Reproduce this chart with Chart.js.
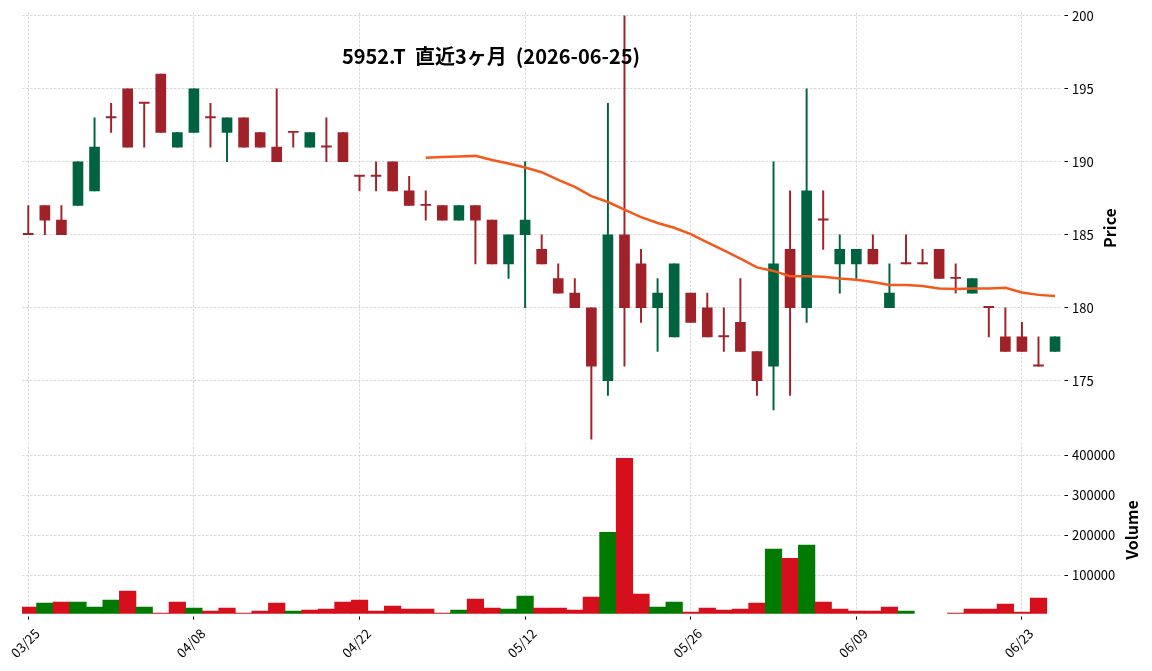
<!DOCTYPE html>
<html lang="ja">
<head>
<meta charset="utf-8">
<title>5952.T 直近3ヶ月</title>
<script src="https://cdn.jsdelivr.net/npm/chart.js@4.4.1/dist/chart.umd.min.js"></script>
<style>
  html, body { margin: 0; padding: 0; background: #fff; }
  #wrap { position: relative; width: 1152px; height: 671px; }
  #priceBox { position: absolute; left: 0; top: 0; width: 1152px; height: 440px; }
  #volBox { position: absolute; left: 0; top: 440px; width: 1152px; height: 231px; }
</style>
</head>
<body>
<div id="wrap">
  <div id="priceBox"><canvas id="priceChart"></canvas></div>
  <div id="volBox"><canvas id="volumeChart"></canvas></div>
</div>
<script>
const dates = [
  "03/25", "03/26", "03/27", "03/30", "03/31", "04/01", "04/02", "04/03", "04/06", "04/07",
  "04/08", "04/09", "04/10", "04/13", "04/14", "04/15", "04/16", "04/17", "04/20", "04/21",
  "04/22", "04/23", "04/24", "04/27", "04/28", "04/30", "05/01", "05/07", "05/08", "05/11",
  "05/12", "05/13", "05/14", "05/15", "05/18", "05/19", "05/20", "05/21", "05/22", "05/25",
  "05/26", "05/27", "05/28", "05/29", "06/01", "06/02", "06/03", "06/04", "06/05", "06/08",
  "06/09", "06/10", "06/11", "06/12", "06/15", "06/16", "06/17", "06/18", "06/19", "06/22",
  "06/23", "06/24", "06/25"
];

const opens = [
  185, 187, 186, 187, 188, 193, 195, 194, 196, 191,
  192, 193, 192, 193, 192, 191, 192, 191, 191, 192,
  189, 189, 190, 188, 187, 187, 186, 187, 186, 183,
  185, 184, 182, 181, 180, 175, 185, 183, 180, 178,
  181, 180, 178, 179, 177, 176, 184, 180, 186, 183,
  183, 184, 180, 183, 183, 184, 182, 181, 180, 178,
  178, 176, 177
];
const highs = [
  187, 187, 187, 190, 193, 194, 195, 194, 196, 192,
  195, 194, 193, 193, 192, 195, 192, 192, 193, 192,
  189, 190, 190, 189, 188, 187, 187, 187, 186, 185,
  190, 185, 183, 182, 180, 194, 200, 184, 182, 183,
  181, 181, 180, 182, 177, 190, 188, 195, 188, 185,
  184, 185, 183, 185, 184, 184, 183, 182, 180, 180,
  179, 178, 178
];
const lows = [
  185, 185, 185, 187, 188, 192, 191, 191, 192, 191,
  192, 191, 190, 191, 191, 190, 191, 191, 190, 190,
  188, 188, 188, 187, 186, 186, 186, 183, 183, 182,
  180, 183, 181, 180, 171, 174, 176, 179, 177, 178,
  179, 178, 177, 177, 174, 173, 174, 179, 184, 181,
  182, 183, 180, 183, 183, 182, 181, 181, 178, 177,
  177, 176, 177
];
const closes = [
  185, 186, 185, 190, 191, 193, 191, 194, 192, 192,
  195, 193, 193, 191, 191, 190, 192, 192, 191, 190,
  189, 189, 188, 187, 187, 186, 187, 186, 183, 185,
  186, 183, 181, 180, 176, 185, 180, 180, 181, 183,
  179, 178, 178, 177, 175, 183, 180, 188, 186, 184,
  184, 183, 181, 183, 183, 182, 182, 182, 180, 177,
  177, 176, 178
];
const volumes = [
  21000, 31000, 33000, 33000, 21000, 38000, 61000, 21000, 6000, 33000,
  18000, 11000, 18000, 6000, 11000, 31000, 11000, 13000, 16000, 33000,
  38000, 11000, 23000, 16000, 16000, 6000, 13000, 41000, 18000, 16000,
  48000, 18000, 18000, 13000, 46000, 208000, 393000, 53000, 21000, 33000,
  8000, 18000, 13000, 16000, 31000, 166000, 143000, 176000, 33000, 16000,
  11000, 11000, 21000, 11000, null, null, 6000, 16000, 16000, 28000,
  8000, 43000, null
];

// 25日移動平均 (index 24 から)
const maStart = 24;
const ma25 = [
  190.28, 190.32, 190.36, 190.40, 190.12, 189.88, 189.60, 189.28, 188.76, 188.28,
  187.64, 187.24, 186.72, 186.20, 185.80, 185.48, 185.04, 184.48, 183.92, 183.36,
  182.76, 182.52, 182.16, 182.16, 182.12, 182.00, 181.92, 181.76, 181.56, 181.56,
  181.48, 181.32, 181.28, 181.32, 181.32, 181.36, 181.04, 180.88, 180.80
];

const dateTicks = [0, 10, 20, 30, 40, 50, 60];
const priceTicks = [175, 180, 185, 190, 195, 200];
const volumeTicks = [100000, 200000, 300000, 400000];

const UP = "#006340", DOWN = "#A02128";
const VOL_UP = "#007a00", VOL_DOWN = "#d5101c";
const GRID = "#cfcfcf";
const FONT = "'Noto Sans CJK JP', 'Noto Sans', sans-serif";

Chart.defaults.font.family = FONT;
Chart.defaults.font.size = 13;
Chart.defaults.color = "#000";
Chart.defaults.animation = false;

const X_MIN = -0.38, X_MAX = 62.42;

const xGrid = { color: GRID, lineWidth: 0.8, offset: false };
// short black tick mark, a little away from the plot edge
const tickGrid = { ...xGrid, tickLength: 6, tickColor: "#000", tickWidth: 1, tickBorderDash: [0, 2.5, 3.5, 100] };
const dashBorder = { display: false, dash: [2.5, 1.5] };

// no extra room for edge labels, the layout padding sets the plot area
const noPad = s => { s.paddingTop = 0; s.paddingBottom = 0; s.paddingLeft = 0; s.paddingRight = 0; };

const candleColors = closes.map((c, i) => c > opens[i] ? UP : DOWN);
const volColors = closes.map((c, i) => i > 0 && c > closes[i - 1] ? VOL_UP : VOL_DOWN);

const rotatedTitle = (id, text, x, y) => ({
    id,
    afterDraw(chart) {
        const ctx = chart.ctx;
        ctx.save();
        ctx.translate(x, y);
        ctx.rotate(-Math.PI / 2);
        ctx.font = `bold 16px ${FONT}`;
        ctx.fillStyle = "#000";
        ctx.textAlign = "center";
        ctx.textBaseline = "middle";
        ctx.fillText(text, 0, 0);
        ctx.restore();
    }
});

const chartTitle = {
    id: "chartTitle",
    afterDraw(chart) {
        const ctx = chart.ctx;
        ctx.save();
        ctx.font = `bold 20px ${FONT}`;
        ctx.fillStyle = "#000";
        ctx.textAlign = "center";
        ctx.textBaseline = "middle";
        ctx.fillText("5952.T  直近3ヶ月  (2026-06-25)", 491, 56);
        ctx.restore();
    }
};

new Chart(document.getElementById("priceChart"), {
    type: "bar",
    data: {
        datasets: [
            {
                type: "line",
                data: ma25.map((v, i) => ({ x: maStart + i, y: v })),
                borderColor: "#f15a1b",
                borderWidth: 2.5,
                pointRadius: 0,
                tension: 0,
                order: 0
            },
            {
                data: opens.map((o, i) => ({ x: i, y: [o, closes[i]] })),
                backgroundColor: candleColors,
                barThickness: 10,
                minBarLength: 1.3,
                grouped: false,
                order: 1
            },
            {
                data: lows.map((l, i) => ({ x: i, y: [l, highs[i]] })),
                backgroundColor: candleColors,
                barThickness: 1.3,
                grouped: false,
                order: 2
            }
        ]
    },
    options: {
        responsive: true,
        maintainAspectRatio: false,
        devicePixelRatio: 1,
        layout: { padding: { left: 22, top: 12.5, right: 0, bottom: 0 } },
        plugins: { legend: { display: false }, tooltip: { enabled: false } },
        scales: {
            x: {
                type: "linear",
                offset: false,
                min: X_MIN,
                max: X_MAX,
                afterBuildTicks: s => { s.ticks = dateTicks.map(v => ({ value: v })); },
                afterFit: s => { s.height = 0; noPad(s); },
                ticks: { display: false },
                grid: { ...xGrid, drawTicks: false },
                border: dashBorder
            },
            y: {
                position: "right",
                min: 170.94,
                max: 200.22,
                afterBuildTicks: s => { s.ticks = priceTicks.map(v => ({ value: v })); },
                afterFit: s => { s.width = 90; noPad(s); },
                ticks: { padding: 4, callback: v => String(v) },
                grid: tickGrid,
                border: dashBorder
            }
        }
    },
    plugins: [chartTitle, rotatedTitle("priceTitle", "Price", 1110, 228)]
});

new Chart(document.getElementById("volumeChart"), {
    type: "bar",
    data: {
        datasets: [{
            data: volumes.map((v, i) => ({ x: i, y: v })),
            backgroundColor: volColors,
            barPercentage: 1,
            categoryPercentage: 1
        }]
    },
    options: {
        responsive: true,
        maintainAspectRatio: false,
        devicePixelRatio: 1,
        layout: { padding: { left: 22, top: 2.5, right: 0, bottom: 0 } },
        plugins: { legend: { display: false }, tooltip: { enabled: false } },
        scales: {
            x: {
                type: "linear",
                offset: false,
                min: X_MIN,
                max: X_MAX,
                afterBuildTicks: s => { s.ticks = dateTicks.map(v => ({ value: v })); },
                afterFit: s => { s.height = 57.3; noPad(s); },
                ticks: {
                    autoSkip: false,
                    minRotation: 45,
                    maxRotation: 45,
                    padding: 6,
                    labelOffset: 9,
                    callback: v => dates[v]
                },
                grid: tickGrid,
                border: dashBorder
            },
            y: {
                position: "right",
                min: 4200,
                max: 432600,
                afterBuildTicks: s => { s.ticks = volumeTicks.map(v => ({ value: v })); },
                afterFit: s => { s.width = 90; noPad(s); },
                ticks: { padding: 4, callback: v => String(v) },
                grid: tickGrid,
                border: dashBorder
            }
        }
    },
    plugins: [rotatedTitle("volumeTitle", "Volume", 1132, 90)]
});
</script>
</body>
</html>
